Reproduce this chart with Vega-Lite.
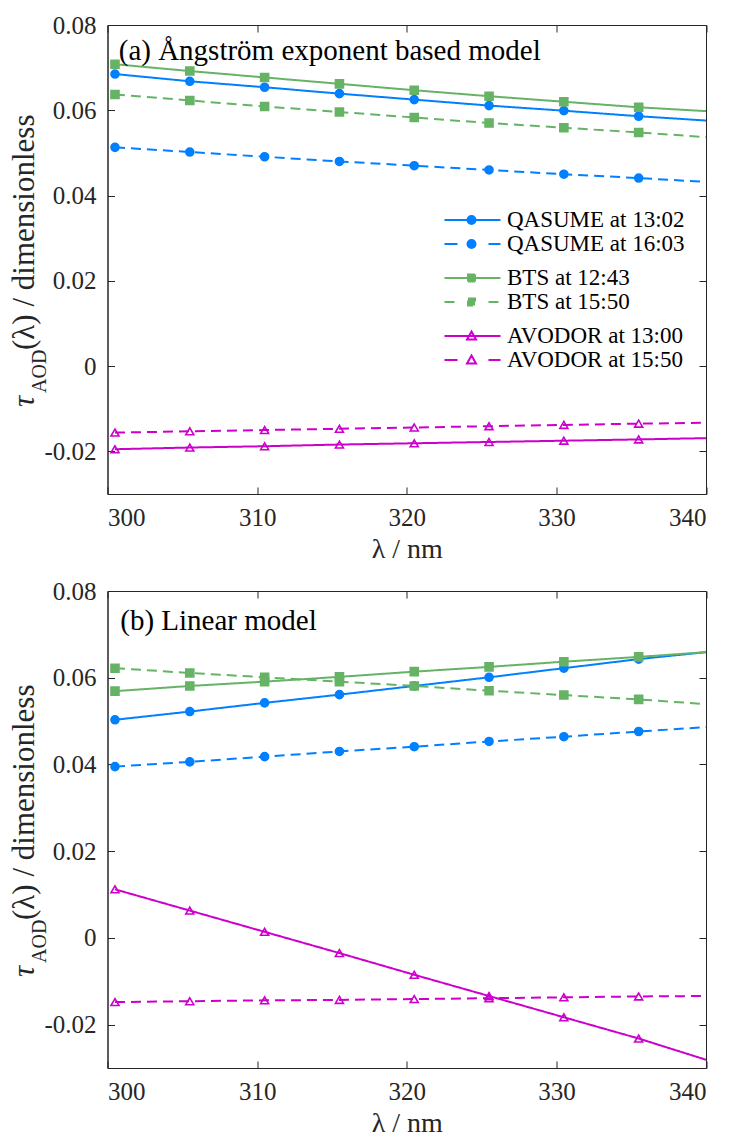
{
  "$schema": "https://vega.github.io/schema/vega-lite/v6.json",
  "background": "white",
  "padding": {"left": 7.5, "top": 12, "right": 0, "bottom": 0},
  "spacing": 14,
  "columns": 1,
  "align": "none",
  "resolve": {"legend": {"color": "independent", "strokeDash": "independent", "opacity": "independent"}},
  "datasets": {
    "a": [
      {"s": "QASUME at 13:02", "lam": 300.5, "tau": 0.0685}, {"s": "QASUME at 13:02", "lam": 305.5, "tau": 0.0668}, {"s": "QASUME at 13:02", "lam": 310.5, "tau": 0.0654}, {"s": "QASUME at 13:02", "lam": 315.5, "tau": 0.0639}, {"s": "QASUME at 13:02", "lam": 320.5, "tau": 0.0625}, {"s": "QASUME at 13:02", "lam": 325.5, "tau": 0.0611}, {"s": "QASUME at 13:02", "lam": 330.5, "tau": 0.0599}, {"s": "QASUME at 13:02", "lam": 335.5, "tau": 0.0586}, {"s": "QASUME at 13:02", "lam": 340, "tau": 0.0576},
      {"s": "QASUME at 16:03", "lam": 300.5, "tau": 0.0513}, {"s": "QASUME at 16:03", "lam": 305.5, "tau": 0.0502}, {"s": "QASUME at 16:03", "lam": 310.5, "tau": 0.0491}, {"s": "QASUME at 16:03", "lam": 315.5, "tau": 0.048}, {"s": "QASUME at 16:03", "lam": 320.5, "tau": 0.047}, {"s": "QASUME at 16:03", "lam": 325.5, "tau": 0.046}, {"s": "QASUME at 16:03", "lam": 330.5, "tau": 0.045}, {"s": "QASUME at 16:03", "lam": 335.5, "tau": 0.0441}, {"s": "QASUME at 16:03", "lam": 340, "tau": 0.0432},
      {"s": "BTS at 12:43", "lam": 300.5, "tau": 0.0708}, {"s": "BTS at 12:43", "lam": 305.5, "tau": 0.0692}, {"s": "BTS at 12:43", "lam": 310.5, "tau": 0.0677}, {"s": "BTS at 12:43", "lam": 315.5, "tau": 0.0662}, {"s": "BTS at 12:43", "lam": 320.5, "tau": 0.0647}, {"s": "BTS at 12:43", "lam": 325.5, "tau": 0.0633}, {"s": "BTS at 12:43", "lam": 330.5, "tau": 0.062}, {"s": "BTS at 12:43", "lam": 335.5, "tau": 0.0607}, {"s": "BTS at 12:43", "lam": 340, "tau": 0.0598},
      {"s": "BTS at 15:50", "lam": 300.5, "tau": 0.0637}, {"s": "BTS at 15:50", "lam": 305.5, "tau": 0.0623}, {"s": "BTS at 15:50", "lam": 310.5, "tau": 0.0609}, {"s": "BTS at 15:50", "lam": 315.5, "tau": 0.0596}, {"s": "BTS at 15:50", "lam": 320.5, "tau": 0.0583}, {"s": "BTS at 15:50", "lam": 325.5, "tau": 0.057}, {"s": "BTS at 15:50", "lam": 330.5, "tau": 0.0559}, {"s": "BTS at 15:50", "lam": 335.5, "tau": 0.0548}, {"s": "BTS at 15:50", "lam": 340, "tau": 0.0537},
      {"s": "AVODOR at 13:00", "lam": 300.5, "tau": -0.0195}, {"s": "AVODOR at 13:00", "lam": 305.5, "tau": -0.0191}, {"s": "AVODOR at 13:00", "lam": 310.5, "tau": -0.0188}, {"s": "AVODOR at 13:00", "lam": 315.5, "tau": -0.0184}, {"s": "AVODOR at 13:00", "lam": 320.5, "tau": -0.0181}, {"s": "AVODOR at 13:00", "lam": 325.5, "tau": -0.0178}, {"s": "AVODOR at 13:00", "lam": 330.5, "tau": -0.0175}, {"s": "AVODOR at 13:00", "lam": 335.5, "tau": -0.0172}, {"s": "AVODOR at 13:00", "lam": 340, "tau": -0.0169},
      {"s": "AVODOR at 15:50", "lam": 300.5, "tau": -0.0156}, {"s": "AVODOR at 15:50", "lam": 305.5, "tau": -0.0153}, {"s": "AVODOR at 15:50", "lam": 310.5, "tau": -0.015}, {"s": "AVODOR at 15:50", "lam": 315.5, "tau": -0.0147}, {"s": "AVODOR at 15:50", "lam": 320.5, "tau": -0.0144}, {"s": "AVODOR at 15:50", "lam": 325.5, "tau": -0.0141}, {"s": "AVODOR at 15:50", "lam": 330.5, "tau": -0.0138}, {"s": "AVODOR at 15:50", "lam": 335.5, "tau": -0.0135}, {"s": "AVODOR at 15:50", "lam": 340, "tau": -0.0133}
    ],
    "b": [
      {"s": "QASUME at 13:02", "lam": 300.5, "tau": 0.0503}, {"s": "QASUME at 13:02", "lam": 305.5, "tau": 0.0522}, {"s": "QASUME at 13:02", "lam": 310.5, "tau": 0.0542}, {"s": "QASUME at 13:02", "lam": 315.5, "tau": 0.0561}, {"s": "QASUME at 13:02", "lam": 320.5, "tau": 0.0581}, {"s": "QASUME at 13:02", "lam": 325.5, "tau": 0.0601}, {"s": "QASUME at 13:02", "lam": 330.5, "tau": 0.0622}, {"s": "QASUME at 13:02", "lam": 335.5, "tau": 0.0643}, {"s": "QASUME at 13:02", "lam": 340, "tau": 0.0659},
      {"s": "QASUME at 16:03", "lam": 300.5, "tau": 0.0395}, {"s": "QASUME at 16:03", "lam": 305.5, "tau": 0.0406}, {"s": "QASUME at 16:03", "lam": 310.5, "tau": 0.0418}, {"s": "QASUME at 16:03", "lam": 315.5, "tau": 0.043}, {"s": "QASUME at 16:03", "lam": 320.5, "tau": 0.0441}, {"s": "QASUME at 16:03", "lam": 325.5, "tau": 0.0453}, {"s": "QASUME at 16:03", "lam": 330.5, "tau": 0.0464}, {"s": "QASUME at 16:03", "lam": 335.5, "tau": 0.0476}, {"s": "QASUME at 16:03", "lam": 340, "tau": 0.0486},
      {"s": "BTS at 12:43", "lam": 300.5, "tau": 0.0569}, {"s": "BTS at 12:43", "lam": 305.5, "tau": 0.0581}, {"s": "BTS at 12:43", "lam": 310.5, "tau": 0.0591}, {"s": "BTS at 12:43", "lam": 315.5, "tau": 0.0602}, {"s": "BTS at 12:43", "lam": 320.5, "tau": 0.0614}, {"s": "BTS at 12:43", "lam": 325.5, "tau": 0.0625}, {"s": "BTS at 12:43", "lam": 330.5, "tau": 0.0637}, {"s": "BTS at 12:43", "lam": 335.5, "tau": 0.0648}, {"s": "BTS at 12:43", "lam": 340, "tau": 0.0659},
      {"s": "BTS at 15:50", "lam": 300.5, "tau": 0.0622}, {"s": "BTS at 15:50", "lam": 305.5, "tau": 0.0611}, {"s": "BTS at 15:50", "lam": 310.5, "tau": 0.0601}, {"s": "BTS at 15:50", "lam": 315.5, "tau": 0.0591}, {"s": "BTS at 15:50", "lam": 320.5, "tau": 0.0581}, {"s": "BTS at 15:50", "lam": 325.5, "tau": 0.057}, {"s": "BTS at 15:50", "lam": 330.5, "tau": 0.056}, {"s": "BTS at 15:50", "lam": 335.5, "tau": 0.055}, {"s": "BTS at 15:50", "lam": 340, "tau": 0.0539},
      {"s": "AVODOR at 13:00", "lam": 300.5, "tau": 0.0112}, {"s": "AVODOR at 13:00", "lam": 305.5, "tau": 0.0063}, {"s": "AVODOR at 13:00", "lam": 310.5, "tau": 0.0014}, {"s": "AVODOR at 13:00", "lam": 315.5, "tau": -0.0035}, {"s": "AVODOR at 13:00", "lam": 320.5, "tau": -0.0085}, {"s": "AVODOR at 13:00", "lam": 325.5, "tau": -0.0134}, {"s": "AVODOR at 13:00", "lam": 330.5, "tau": -0.0183}, {"s": "AVODOR at 13:00", "lam": 335.5, "tau": -0.0232}, {"s": "AVODOR at 13:00", "lam": 340, "tau": -0.0281},
      {"s": "AVODOR at 15:50", "lam": 300.5, "tau": -0.0148}, {"s": "AVODOR at 15:50", "lam": 305.5, "tau": -0.0146}, {"s": "AVODOR at 15:50", "lam": 310.5, "tau": -0.0144}, {"s": "AVODOR at 15:50", "lam": 315.5, "tau": -0.0143}, {"s": "AVODOR at 15:50", "lam": 320.5, "tau": -0.0141}, {"s": "AVODOR at 15:50", "lam": 325.5, "tau": -0.0139}, {"s": "AVODOR at 15:50", "lam": 330.5, "tau": -0.0137}, {"s": "AVODOR at 15:50", "lam": 335.5, "tau": -0.0135}, {"s": "AVODOR at 15:50", "lam": 340, "tau": -0.0134}
    ]
  },
  "concat": [
    {
      "width": 598.5,
      "height": 469,
      "data": {"name": "a"},
      "resolve": {"axis": {"x": "independent", "y": "independent"}},
      "layer": [
        {
          "mark": {"type": "line", "strokeWidth": 2},
          "encoding": {
            "x": {"field": "lam", "type": "quantitative", "scale": {"domain": [300, 340], "nice": false, "zero": false},
              "axis": {"orient": "bottom", "values": [300, 310, 320, 330, 340], "format": "d", "tickSize": -7, "labelPadding": 18, "title": "λ / nm", "titlePadding": 5}},
            "y": {"field": "tau", "type": "quantitative", "scale": {"domain": [-0.03, 0.08], "nice": false, "zero": false},
              "axis": {"orient": "left", "values": [-0.02, 0, 0.02, 0.04, 0.06, 0.08], "labelExpr": "datum.value == 0 ? '0' : (datum.value < 0 ? '-' : '') + format(abs(datum.value), '.2f')", "tickSize": -7, "labelPadding": 18.5,
                "title": "(λ) / dimensionless", "titleFontSize": 31, "titleAngle": -90, "titleAlign": "left", "titleBaseline": "alphabetic", "titleX": -74.5, "titleY": 324.5}},
            "color": {"field": "s", "type": "nominal",
              "scale": {"domain": ["QASUME at 13:02", "QASUME at 16:03", "BTS at 12:43", "BTS at 15:50", "AVODOR at 13:00", "AVODOR at 15:50"], "range": ["#0080ff", "#0080ff", "#66b366", "#66b366", "#cc00cc", "#cc00cc"]},
              "legend": {
                "values": ["QASUME at 13:02", "QASUME at 16:03"],
                "orient": "none", "legendX": 381.5, "legendY": 183.5, "title": null, "padding": 0,
                "labelFont": "Liberation Serif", "labelFontSize": 23, "labelColor": "#000000", "labelLimit": 400,
                "symbolSize": 4, "rowPadding": -2.5, "labelOffset": -5,
                "encode": {
                  "symbols": {"update": {
                    "shape": {"signal": "datum.value == 'QASUME at 13:02' ? 'M-56,0H0M-33,0A4,4,0,1,0,-25,0A4,4,0,1,0,-33,0Z' : 'M-56,0H-43M-12,0H0M-33,0A4,4,0,1,0,-25,0A4,4,0,1,0,-33,0Z'"},
                    "fill": {"value": "#0080ff"},
                    "stroke": {"value": "#0080ff"},
                    "strokeWidth": {"value": 2},
                    "strokeDash": {"value": []},
                    "size": {"value": 4},
                    "opacity": {"value": 1}
                  }}
                }
              }},
            "strokeDash": {"field": "s", "type": "nominal",
              "scale": {"domain": ["BTS at 12:43", "BTS at 15:50", "QASUME at 13:02", "QASUME at 16:03", "AVODOR at 13:00", "AVODOR at 15:50"], "range": [[1, 0], [10, 6], [1, 0], [10, 6], [1, 0], [10, 6]]},
              "legend": {
                "values": ["BTS at 12:43", "BTS at 15:50"],
                "orient": "none", "legendX": 381.5, "legendY": 241.5, "title": null, "padding": 0,
                "labelFont": "Liberation Serif", "labelFontSize": 23, "labelColor": "#000000", "labelLimit": 400,
                "symbolSize": 4, "rowPadding": -2.5, "labelOffset": -5,
                "encode": {
                  "symbols": {"update": {
                    "shape": {"signal": "datum.value == 'BTS at 12:43' ? 'M-56,0H0M-32.5,-3.5H-25.5V3.5H-32.5Z' : 'M-56,0H-43M-12,0H0M-32.5,-3.5H-25.5V3.5H-32.5Z'"},
                    "fill": {"value": "#66b366"},
                    "stroke": {"value": "#66b366"},
                    "strokeWidth": {"value": 2},
                    "strokeDash": {"value": []},
                    "size": {"value": 4},
                    "opacity": {"value": 1}
                  }}
                }
              }},
            "opacity": {"field": "s", "type": "nominal",
              "scale": {"domain": ["AVODOR at 13:00", "AVODOR at 15:50", "BTS at 12:43", "BTS at 15:50", "QASUME at 13:02", "QASUME at 16:03"], "range": [1, 1, 1, 1, 1, 1]},
              "legend": {
                "values": ["AVODOR at 13:00", "AVODOR at 15:50"],
                "orient": "none", "legendX": 381.5, "legendY": 299.5, "title": null, "padding": 0,
                "labelFont": "Liberation Serif", "labelFontSize": 23, "labelColor": "#000000", "labelLimit": 400,
                "symbolSize": 4, "rowPadding": -2.5, "labelOffset": -5,
                "encode": {
                  "symbols": {"update": {
                    "shape": {"signal": "datum.value == 'AVODOR at 13:00' ? 'M-56,0H0M-29,-4.5L-24.5,3.5L-33.5,3.5Z' : 'M-56,0H-43M-12,0H0M-29,-4.5L-24.5,3.5L-33.5,3.5Z'"},
                    "fill": {"value": "transparent"},
                    "stroke": {"value": "#cc00cc"},
                    "strokeWidth": {"value": 2},
                    "strokeDash": {"value": []},
                    "size": {"value": 4},
                    "opacity": {"value": 1}
                  }}
                }
              }}
          }
        },
        {
          "transform": [{"filter": "datum.lam < 339"}],
          "mark": {"type": "point", "filled": true, "strokeWidth": 1.6, "opacity": 1},
          "encoding": {
            "x": {"field": "lam", "type": "quantitative", "axis": {"orient": "top", "values": [300, 310, 320, 330, 340], "labels": false, "domain": false, "title": null, "tickSize": -7}},
            "y": {"field": "tau", "type": "quantitative", "axis": {"orient": "right", "values": [-0.02, 0, 0.02, 0.04, 0.06, 0.08], "labels": false, "domain": false, "title": null, "tickSize": -7}},
            "shape": {"field": "s", "type": "nominal",
              "scale": {"domain": ["AVODOR at 13:00", "AVODOR at 15:50", "QASUME at 13:02", "QASUME at 16:03", "BTS at 12:43", "BTS at 15:50"], "range": ["triangle-up", "triangle-up", "circle", "circle", "square", "square"]},
              "legend": null},
            "fill": {"field": "s", "type": "nominal", "scale": {"domain": ["QASUME at 13:02", "QASUME at 16:03", "BTS at 12:43", "BTS at 15:50", "AVODOR at 13:00", "AVODOR at 15:50"], "range": ["#0080ff", "#0080ff", "#66b366", "#66b366", "transparent", "transparent"]}, "legend": null},
            "stroke": {"field": "s", "type": "nominal", "scale": {"domain": ["QASUME at 13:02", "QASUME at 16:03", "BTS at 12:43", "BTS at 15:50", "AVODOR at 13:00", "AVODOR at 15:50"], "range": ["#0080ff", "#0080ff", "#66b366", "#66b366", "#cc00cc", "#cc00cc"]}, "legend": null},
            "size": {"field": "s", "type": "nominal", "scale": {"domain": ["QASUME at 13:02", "QASUME at 16:03", "BTS at 12:43", "BTS at 15:50", "AVODOR at 13:00", "AVODOR at 15:50"], "range": [64, 64, 52, 52, 95, 95]}, "legend": null}
          }
        },
        {
          "data": {"values": [{"label": "(a) Ångström exponent based model"}]},
          "mark": {"type": "text", "align": "left", "baseline": "middle", "font": "Liberation Serif", "fontSize": 29, "color": "#000000"},
          "encoding": {
            "x": {"datum": 300.75, "type": "quantitative", "axis": null},
            "y": {"datum": 0.0738, "type": "quantitative", "axis": {"orient": "left", "ticks": false, "labels": false, "domain": false, "title": "τ", "titleFontSize": 31, "titleFontStyle": "italic", "titleAngle": -90, "titleAlign": "left", "titleBaseline": "alphabetic", "titleX": -74.5, "titleY": 381.5}},
            "text": {"field": "label"}
          }
        },
        {
          "data": {"values": [{"label": ""}]},
          "mark": {"type": "text"},
          "encoding": {
            "x": {"datum": 300, "type": "quantitative", "axis": null},
            "y": {"datum": 0, "type": "quantitative", "axis": {"orient": "left", "ticks": false, "labels": false, "domain": false, "title": "AOD", "titleFontSize": 20, "titleAngle": -90, "titleAlign": "left", "titleBaseline": "alphabetic", "titleX": -62.5, "titleY": 367.5}},
            "text": {"field": "label"}
          }
        }
      ]
    },
    {
      "width": 598.5,
      "height": 477,
      "data": {"name": "b"},
      "resolve": {"axis": {"x": "independent", "y": "independent"}},
      "layer": [
        {
          "mark": {"type": "line", "strokeWidth": 2},
          "encoding": {
            "x": {"field": "lam", "type": "quantitative", "scale": {"domain": [300, 340], "nice": false, "zero": false},
              "axis": {"orient": "bottom", "values": [300, 310, 320, 330, 340], "format": "d", "tickSize": -7, "labelPadding": 18, "title": "λ / nm", "titlePadding": 5}},
            "y": {"field": "tau", "type": "quantitative", "scale": {"domain": [-0.03, 0.08], "nice": false, "zero": false},
              "axis": {"orient": "left", "values": [-0.02, 0, 0.02, 0.04, 0.06, 0.08], "labelExpr": "datum.value == 0 ? '0' : (datum.value < 0 ? '-' : '') + format(abs(datum.value), '.2f')", "tickSize": -7, "labelPadding": 18.5,
                "title": "(λ) / dimensionless", "titleFontSize": 31, "titleAngle": -90, "titleAlign": "left", "titleBaseline": "alphabetic", "titleX": -74.5, "titleY": 328.5}},
            "color": {"field": "s", "type": "nominal",
              "scale": {"domain": ["QASUME at 13:02", "QASUME at 16:03", "BTS at 12:43", "BTS at 15:50", "AVODOR at 13:00", "AVODOR at 15:50"], "range": ["#0080ff", "#0080ff", "#66b366", "#66b366", "#cc00cc", "#cc00cc"]},
              "legend": null},
            "strokeDash": {"field": "s", "type": "nominal",
              "scale": {"domain": ["BTS at 12:43", "BTS at 15:50", "QASUME at 13:02", "QASUME at 16:03", "AVODOR at 13:00", "AVODOR at 15:50"], "range": [[1, 0], [10, 6], [1, 0], [10, 6], [1, 0], [10, 6]]},
              "legend": null},
            "opacity": {"field": "s", "type": "nominal",
              "scale": {"domain": ["AVODOR at 13:00", "AVODOR at 15:50", "BTS at 12:43", "BTS at 15:50", "QASUME at 13:02", "QASUME at 16:03"], "range": [1, 1, 1, 1, 1, 1]},
              "legend": null}
          }
        },
        {
          "transform": [{"filter": "datum.lam < 339"}],
          "mark": {"type": "point", "filled": true, "strokeWidth": 1.6, "opacity": 1},
          "encoding": {
            "x": {"field": "lam", "type": "quantitative", "axis": {"orient": "top", "values": [300, 310, 320, 330, 340], "labels": false, "domain": false, "title": null, "tickSize": -7}},
            "y": {"field": "tau", "type": "quantitative", "axis": {"orient": "right", "values": [-0.02, 0, 0.02, 0.04, 0.06, 0.08], "labels": false, "domain": false, "title": null, "tickSize": -7}},
            "shape": {"field": "s", "type": "nominal",
              "scale": {"domain": ["AVODOR at 13:00", "AVODOR at 15:50", "QASUME at 13:02", "QASUME at 16:03", "BTS at 12:43", "BTS at 15:50"], "range": ["triangle-up", "triangle-up", "circle", "circle", "square", "square"]},
              "legend": null},
            "fill": {"field": "s", "type": "nominal", "scale": {"domain": ["QASUME at 13:02", "QASUME at 16:03", "BTS at 12:43", "BTS at 15:50", "AVODOR at 13:00", "AVODOR at 15:50"], "range": ["#0080ff", "#0080ff", "#66b366", "#66b366", "transparent", "transparent"]}, "legend": null},
            "stroke": {"field": "s", "type": "nominal", "scale": {"domain": ["QASUME at 13:02", "QASUME at 16:03", "BTS at 12:43", "BTS at 15:50", "AVODOR at 13:00", "AVODOR at 15:50"], "range": ["#0080ff", "#0080ff", "#66b366", "#66b366", "#cc00cc", "#cc00cc"]}, "legend": null},
            "size": {"field": "s", "type": "nominal", "scale": {"domain": ["QASUME at 13:02", "QASUME at 16:03", "BTS at 12:43", "BTS at 15:50", "AVODOR at 13:00", "AVODOR at 15:50"], "range": [64, 64, 52, 52, 95, 95]}, "legend": null}
          }
        },
        {
          "data": {"values": [{"label": "(b) Linear model"}]},
          "mark": {"type": "text", "align": "left", "baseline": "middle", "font": "Liberation Serif", "fontSize": 29, "color": "#000000"},
          "encoding": {
            "x": {"datum": 300.85, "type": "quantitative", "axis": null},
            "y": {"datum": 0.0731, "type": "quantitative", "axis": {"orient": "left", "ticks": false, "labels": false, "domain": false, "title": "τ", "titleFontSize": 31, "titleFontStyle": "italic", "titleAngle": -90, "titleAlign": "left", "titleBaseline": "alphabetic", "titleX": -74.5, "titleY": 385.5}},
            "text": {"field": "label"}
          }
        },
        {
          "data": {"values": [{"label": ""}]},
          "mark": {"type": "text"},
          "encoding": {
            "x": {"datum": 300, "type": "quantitative", "axis": null},
            "y": {"datum": 0, "type": "quantitative", "axis": {"orient": "left", "ticks": false, "labels": false, "domain": false, "title": "AOD", "titleFontSize": 20, "titleAngle": -90, "titleAlign": "left", "titleBaseline": "alphabetic", "titleX": -62.5, "titleY": 371.5}},
            "text": {"field": "label"}
          }
        }
      ]
    }
  ],
  "config": {
    "view": {"stroke": "#262626", "strokeWidth": 1},
    "axis": {
      "grid": false,
      "labelFont": "Liberation Serif", "labelFontSize": 25, "labelColor": "#262626",
      "titleFont": "Liberation Serif", "titleFontSize": 28, "titleFontWeight": "normal", "titleColor": "#262626",
      "domainColor": "#262626", "tickColor": "#262626", "domainWidth": 1, "tickWidth": 1
    },
    "text": {"font": "Liberation Serif"}
  }
}
